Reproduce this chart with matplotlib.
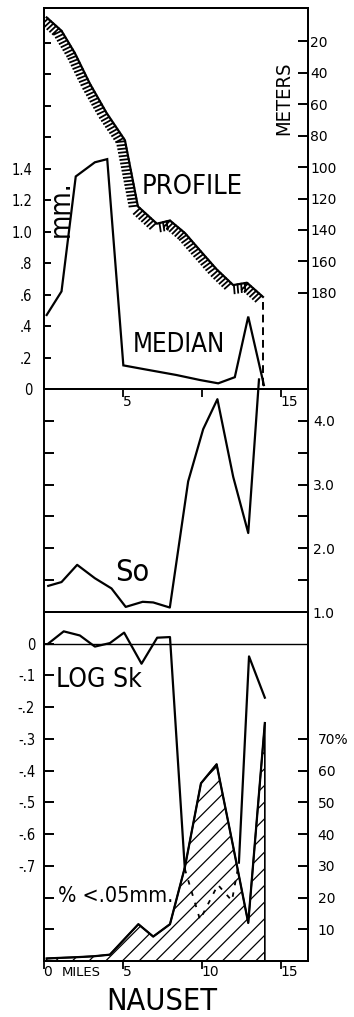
import matplotlib
matplotlib.use("Agg")
import matplotlib.pyplot as plt
from matplotlib import patheffects
from matplotlib import font_manager as fm

# ---------------- data ----------------
profile_miles = [0.2, 1.14, 1.98, 2.93, 3.99, 5.15, 5.97, 7.17, 8.0, 8.95, 9.9, 10.95, 12.0, 12.87, 13.88]
profile_depth_m = [5, 13.5, 27.6, 47, 65.7, 83, 125, 136, 134, 142, 153, 165, 175, 173.5, 182.5]
profile_gap_mile = [13.9, 13.9]
profile_gap_depth = [186, 240]

median_miles = [0.2, 1.14, 2.04, 3.25, 4.03, 5.05, 6.3, 8.4, 9.9, 11.05, 12.1, 12.95, 13.94]
median_mm = [0.47, 0.62, 1.35, 1.44, 1.46, 0.15, 0.127, 0.089, 0.057, 0.036, 0.075, 0.46, 0.025]

so_miles = [0.3, 1.14, 2.13, 3.25, 4.3, 5.2, 6.27, 6.94, 7.99, 9.15, 10.1, 11.0, 12.0, 12.95, 13.63]
so_vals = [1.41, 1.47, 1.74, 1.53, 1.37, 1.08, 1.16, 1.15, 1.07, 3.05, 3.87, 4.34, 3.12, 2.24, 4.65]

logsk_miles_a = [0.29, 1.28, 2.3, 3.25, 4.2, 5.1, 6.2, 7.19, 8.0, 8.94]
logsk_vals_a = [0.0, 0.039, 0.026, -0.009, 0.002, 0.035, -0.063, 0.019, 0.021, -0.71]
logsk_miles_dash = [8.94, 9.9, 11.03, 11.92, 12.36]
logsk_vals_dash = [-0.71, -0.87, -0.76, -0.81, -0.69]
logsk_miles_b = [12.36, 13.0, 14.0]
logsk_vals_b = [-0.69, -0.04, -0.17]

pct_miles = [0.2, 1.1, 2.1, 3.2, 4.2, 6.0, 6.94, 8.0, 8.94, 9.96, 10.95, 12.0, 12.95, 14.0]
pct_vals = [0.8, 1.0, 1.2, 1.5, 2.0, 11.6, 7.7, 11.6, 29.5, 56, 62, 36, 12, 75]

median_ticks = [0, 0.2, 0.4, 0.6, 0.8, 1.0, 1.2, 1.4, 1.6, 1.8, 2.0, 2.2]
median_ticklabels = ["0", ".2", ".4", ".6", ".8", "1.0", "1.2", "1.4", "", "", "", ""]
depth_ticks = [20, 40, 60, 80, 100, 120, 140, 160, 180]
depth_ticklabels = ["20", "40", "60", "80", "100", "120", "140", "160", "180"]
so_ticks = [1.0, 1.5, 2.0, 2.5, 3.0, 3.5, 4.0]
so_ticklabels = ["1.0", "", "2.0", "", "3.0", "", "4.0"]
logsk_ticks = [0, -0.1, -0.2, -0.3, -0.4, -0.5, -0.6, -0.7, -0.8, -0.9]
logsk_ticklabels = ["0", "-.1", "-.2", "-.3", "-.4", "-.5", "-.6", "-.7", "", ""]
pct_ticks = [10, 20, 30, 40, 50, 60, 70]
pct_ticklabels = ["10", "20", "30", "40", "50", "60", "70%"]
mile_ticks_mid = [5, 10, 15]
mile_ticklabels_mid = ["5", "", "15"]
mile_ticks = [0, 5, 10, 15]
mile_ticklabels = ["0", "5", "10", "15"]

# ---------------- fonts ----------------
names = {f.name for f in fm.fontManager.ttflist}
if "Liberation Sans Narrow" in names:
    NARROW = dict(family="Liberation Sans Narrow")
else:
    NARROW = dict(family="DejaVu Sans", stretch="condensed")
plt.rcParams["font.family"] = ["DejaVu Sans"]
plt.rcParams["hatch.linewidth"] = 0.9

W, H = 354, 1017
L, R = 43.5, 308
XLIM = (0, 16.73)

def rect(top, bottom):
    return [L / W, 1 - bottom / H, (R - L) / W, (bottom - top) / H]

fig = plt.figure(figsize=(W / 100, H / 100), dpi=100)
fig.patch.set_facecolor("white")

LW = 1.6
SP = 1.4

def style_spines(ax, lw=SP):
    for s in ax.spines.values():
        s.set_linewidth(lw)
        s.set_color("black")

# ---------------- panel 1: median + profile ----------------
ax1 = fig.add_axes(rect(8, 389))
ax1.set_facecolor("none")
ax1.plot(median_miles, median_mm, color="black", lw=LW, solid_joinstyle="miter")
ax1.set_xlim(*XLIM)
ax1.set_ylim(0, 2.42)
ax1.set_yticks(median_ticks, median_ticklabels, fontsize=10.5, **NARROW)
ax1.tick_params(axis="y", direction="in", length=5, width=1.4, left=True, right=False, pad=8)
ax1.set_xticks(mile_ticks_mid, mile_ticklabels_mid, fontsize=10, ha="left")
ax1.tick_params(axis="x", direction="out", length=6, width=1.3, bottom=True, top=False, pad=-2)
style_spines(ax1)
ax1.text(0.561, 0.53, "PROFILE", transform=ax1.transAxes, fontsize=19.5, ha="center", va="center", **NARROW)
ax1.text(0.066, 0.472, "mm.", transform=ax1.transAxes, fontsize=20, rotation=90, ha="center", va="center", **NARROW)
ax1.text(0.51, 0.1155, "MEDIAN", transform=ax1.transAxes, fontsize=18.5, ha="center", va="center", **NARROW)
ax1.text(0.907, 0.764, "METERS", transform=ax1.transAxes, fontsize=14.5, rotation=90, ha="center", va="center", **NARROW)

ax1r = ax1.twinx()
ax1r.plot(profile_miles, profile_depth_m, color="black", lw=LW,
          path_effects=[patheffects.withTickedStroke(angle=-95, spacing=2.6, length=2.3, linewidth=1.3)])
ax1r.plot(profile_gap_mile, profile_gap_depth, color="black", lw=1.4, linestyle=(0, (4, 2.5)))
ax1r.set_ylim(241, -1)
ax1r.set_yticks(depth_ticks, depth_ticklabels, fontsize=10)
ax1r.tick_params(axis="y", direction="in", length=7, width=1.4, right=True, pad=1.5)
style_spines(ax1r)

# ---------------- panel 2: So ----------------
ax2 = fig.add_axes(rect(389, 612))
ax2.set_facecolor("none")
ax2.plot(so_miles, so_vals, color="black", lw=LW, clip_on=False)
ax2.set_xlim(*XLIM)
ax2.set_ylim(1.0, 4.50)
ax2.set_yticks(so_ticks, so_ticklabels, fontsize=10)
ax2.tick_params(axis="y", direction="in", length=7, width=1.4, left=True, right=True,
                labelleft=False, labelright=True, pad=3.5)
ax2.tick_params(axis="x", bottom=False, top=False, labelbottom=False)
style_spines(ax2)
ax2.text(0.336, 0.179, "So", transform=ax2.transAxes, fontsize=22, ha="center", va="center", **NARROW)

# ---------------- panel 3: LOG Sk + % < .05 mm ----------------
ax3 = fig.add_axes(rect(612, 961))
ax3.set_facecolor("none")
ax3.axhline(0, color="black", lw=1.0)
ax3.plot(logsk_miles_a, logsk_vals_a, color="black", lw=LW)
ax3.plot(logsk_miles_dash, logsk_vals_dash, color="black", lw=1.3, linestyle=(0, (2.5, 4)))
ax3.plot(logsk_miles_b, logsk_vals_b, color="black", lw=LW)
ax3.set_xlim(*XLIM)
ax3.set_ylim(-1.0, 0.1)
ax3.set_yticks(logsk_ticks, logsk_ticklabels, fontsize=10.5, **NARROW)
ax3.tick_params(axis="y", direction="in", length=7, width=1.4, left=True, right=False, pad=6)
ax3.set_xticks(mile_ticks, mile_ticklabels, fontsize=10, ha="left")
ax3.tick_params(axis="x", direction="out", length=6, width=1.3, bottom=True, top=False, pad=-3)
style_spines(ax3)
ax3.annotate("MILES", xy=(0, 0), xycoords=("data", "axes fraction"), xytext=(13, -10.8),
             textcoords="offset points", fontsize=9.5, ha="left", va="baseline")
ax3.text(0.21, 0.804, "LOG Sk", transform=ax3.transAxes, fontsize=19, ha="center", va="center", **NARROW)
ax3.text(0.274, 0.186, "% <.05mm.", transform=ax3.transAxes, fontsize=15.5, ha="center", va="center", **NARROW)

ax3r = ax3.twinx()
ax3r.fill_between(pct_miles, 0, pct_vals, facecolor="none", edgecolor="black", hatch="//", linewidth=1.2)
ax3r.plot(pct_miles, pct_vals, color="black", lw=LW)
ax3r.set_ylim(0, 110)
ax3r.set_yticks(pct_ticks, pct_ticklabels, fontsize=10)
ax3r.tick_params(axis="y", direction="in", length=7, width=1.4, right=True, pad=7)
style_spines(ax3r)

fig.text(162 / W, 1 - 1001 / H, "NAUSET", fontsize=22, ha="center", va="center", **NARROW)

fig.savefig("out.png", dpi=100, facecolor="white")
